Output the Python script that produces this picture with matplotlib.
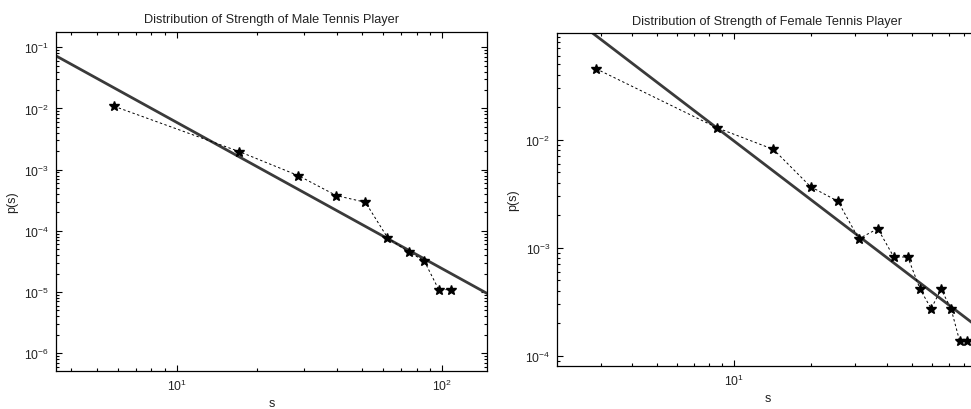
import matplotlib
matplotlib.use("Agg")
import matplotlib.pyplot as plt
from matplotlib.ticker import LogLocator, NullFormatter

plt.rcParams['font.family'] = ['Liberation Sans', 'DejaVu Sans']
plt.rcParams['mathtext.fontset'] = 'custom'
plt.rcParams['mathtext.rm'] = 'Liberation Sans'
plt.rcParams['mathtext.it'] = 'Liberation Sans'
plt.rcParams['mathtext.bf'] = 'Liberation Sans'

# Male data
male_s = [5.81, 17.2, 28.7, 39.9, 51.3, 62.1, 74.7, 85.3, 96.9, 108.1]
male_p = [1.086e-2, 1.97e-3, 7.98e-4, 3.76e-4, 2.93e-4, 7.75e-5, 4.47e-5, 3.26e-5, 1.09e-5, 1.09e-5]
male_fit_s = [3.5, 147.0]
male_fit_p = [7.3e-2, 9.5e-6]

# Female data
female_s = [2.88, 8.58, 14.3, 20.0, 25.6, 30.9, 36.7, 42.4, 48.1, 53.8, 59.4, 65.0, 71.1, 76.9, 82.2]
female_p = [4.54e-2, 1.29e-2, 8.13e-3, 3.67e-3, 2.69e-3, 1.21e-3, 1.50e-3, 8.2e-4, 8.2e-4,
            4.12e-4, 2.73e-4, 4.12e-4, 2.73e-4, 1.36e-4, 1.36e-4]
female_fit_s = [2.0, 92.0]
female_fit_p = [0.177, 1.79e-4]

W, H = 971, 410
fig = plt.figure(figsize=(W / 100, H / 100), dpi=100)

def px_axes(x0, y0, x1, y1):
    return fig.add_axes([x0 / W, 1 - y1 / H, (x1 - x0) / W, (y1 - y0) / H])

ax1 = px_axes(56, 32.7, 486.7, 372)
ax2 = px_axes(557.3, 34.3, 977.5, 367)

def style(ax, title):
    ax.set_xscale('log')
    ax.set_yscale('log')
    ax.set_title(title, fontsize=9.2, pad=7, color='#222222')
    ax.set_xlabel('s', fontsize=9, labelpad=3, color='#222222')
    ax.set_ylabel('p(s)', fontsize=9, labelpad=4, color='#222222')
    ax.tick_params(which='both', direction='in', top=True, right=True, labelsize=8.7,
                   color='black', width=0.8, labelcolor='#222222')
    ax.tick_params(which='major', length=4, pad=5)
    ax.tick_params(which='minor', length=2.5)
    ax.xaxis.set_major_locator(LogLocator(base=10))
    ax.xaxis.set_minor_locator(LogLocator(base=10, subs=range(2, 10)))
    ax.xaxis.set_minor_formatter(NullFormatter())
    ax.yaxis.set_major_locator(LogLocator(base=10))
    ax.yaxis.set_minor_locator(LogLocator(base=10, subs=range(2, 10), numticks=20))
    ax.yaxis.set_minor_formatter(NullFormatter())
    for sp in ax.spines.values():
        sp.set_linewidth(0.9)
        sp.set_color('black')

ax1.plot(male_fit_s, male_fit_p, '-', color='#3a3a3a', lw=2.0, zorder=2)
ax1.plot(male_s, male_p, linestyle=(0, (2.5, 2.5)), color='black', lw=0.7,
         marker='*', markersize=7, markerfacecolor='black', markeredgecolor='black', zorder=3)
ax1.set_xlim(3.51, 146.8)
ax1.set_ylim(5.1e-7, 0.18)
style(ax1, 'Distribution of Strength of Male Tennis Player')

ax2.plot(female_fit_s, female_fit_p, '-', color='#3a3a3a', lw=2.0, zorder=2)
ax2.plot(female_s, female_p, linestyle=(0, (2.5, 2.5)), color='black', lw=0.7,
         marker='*', markersize=7, markerfacecolor='black', markeredgecolor='black', zorder=3)
ax2.set_xlim(2.03, 90.3)
ax2.set_ylim(8.03e-5, 0.0966)
style(ax2, 'Distribution of Strength of Female Tennis Player')

fig.savefig('out.png', dpi=100)
